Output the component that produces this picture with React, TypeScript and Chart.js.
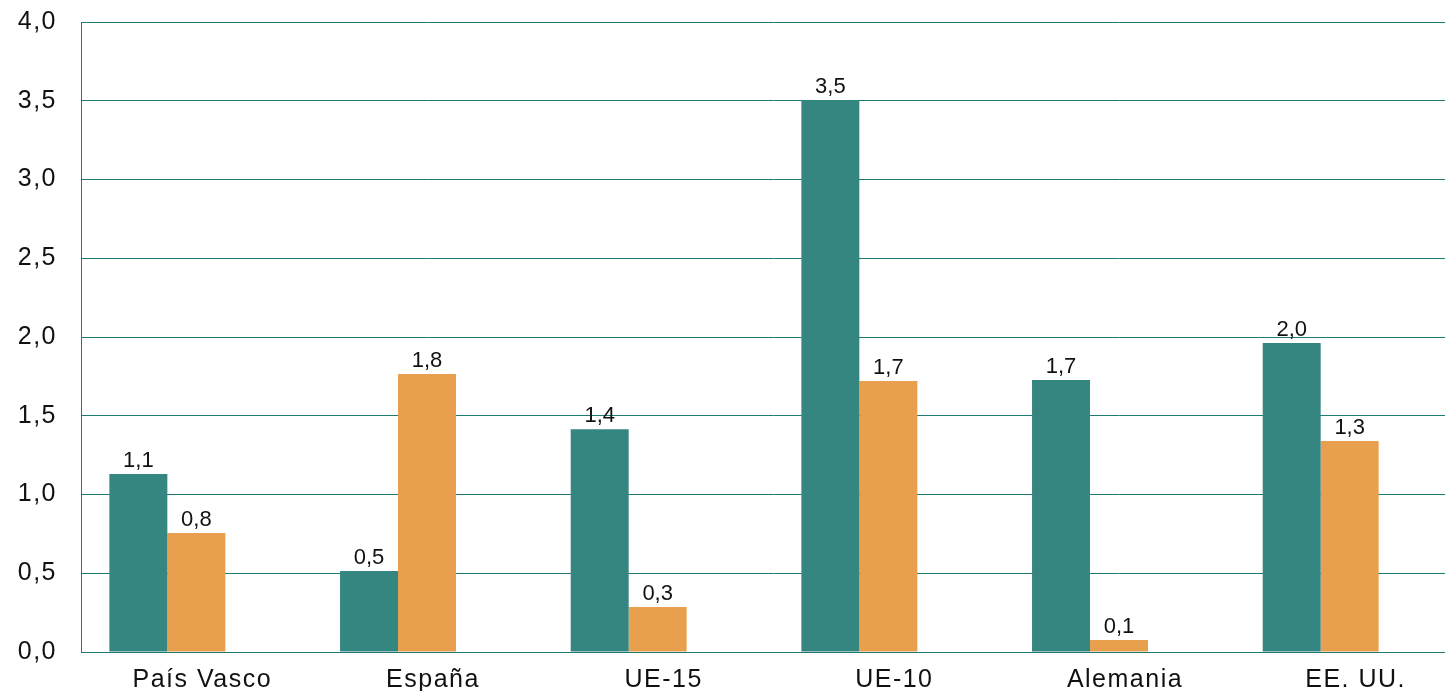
import React, { useEffect, useRef } from "react";
import { Chart, registerables } from "chart.js";

Chart.register(...registerables);

const categories = ["País Vasco", "España", "UE-15", "UE-10", "Alemania", "EE. UU."];
const seriesA = [1.13, 0.515, 1.415, 3.505, 1.727, 1.962];
const seriesB = [0.755, 1.765, 0.285, 1.72, 0.076, 1.34];
const seriesEmpty = [null, null, null, null, null, null];
const yMin = 0;
const yMax = 4;
const yStep = 0.5;

const fmt = (v: number) => v.toFixed(1).replace(".", ",");

const spacingPlugin = {
  id: "spacing",
  beforeDraw(chart: any) {
    (chart.ctx as any).letterSpacing = "1.5px";
  },
  beforeDatasetsDraw(chart: any) {
    (chart.ctx as any).letterSpacing = "2.5px";
  },
};

const labelPlugin = {
  id: "barLabels",
  afterDatasetsDraw(chart: any) {
    const ctx = chart.ctx;
    ctx.save();
    (ctx as any).letterSpacing = "0px";
    ctx.font = "22px 'Liberation Sans', Arial, sans-serif";
    ctx.fillStyle = "#111111";
    ctx.textAlign = "center";
    ctx.textBaseline = "alphabetic";
    chart.data.datasets.forEach((ds: any, i: number) => {
      const meta = chart.getDatasetMeta(i);
      meta.data.forEach((el: any, j: number) => {
        const v = ds.data[j];
        if (v === null || v === undefined) return;
        ctx.fillText(fmt(v), el.x, el.y - 7);
      });
    });
    ctx.restore();
  },
};

export default function App() {
  const ref = useRef<HTMLCanvasElement>(null);
  useEffect(() => {
    if (!ref.current) return;
    const grid = "#1F7A73";
    const chart = new Chart(ref.current, {
      type: "bar",
      data: {
        labels: categories,
        datasets: [
          { label: "A", data: seriesA, backgroundColor: "#358580" },
          { label: "B", data: seriesB, backgroundColor: "#E8A04E" },
          { label: "C", data: seriesEmpty as any, backgroundColor: "transparent" },
        ],
      },
      options: {
        responsive: false,
        animation: false,
        devicePixelRatio: 1,
        layout: { padding: { top: 22, left: 0, right: 0, bottom: 0 } },
        datasets: { bar: { categoryPercentage: 0.754, barPercentage: 1 } },
        plugins: { legend: { display: false }, tooltip: { enabled: false } },
        scales: {
          x: {
            grid: { display: false },
            border: { display: true, color: grid, width: 1 },
            ticks: {
              color: "#111111",
              font: { size: 25, family: "'Liberation Sans', Arial, sans-serif" },
              padding: 5,
              maxRotation: 0,
              labelOffset: 6,
            },
            afterFit(scale: any) {
              scale.height = 68;
              scale.paddingLeft = 0;
              scale.paddingRight = 0;
            },
          },
          y: {
            min: yMin,
            max: yMax,
            grid: { color: grid, lineWidth: 1, drawTicks: false },
            border: { display: true, color: grid, width: 1 },
            ticks: {
              stepSize: yStep,
              color: "#111111",
              font: { size: 25, family: "'Liberation Sans', Arial, sans-serif" },
              padding: 24,
              callback: (v: any) => fmt(Number(v)),
            },
            afterFit(scale: any) {
              scale.width = 81;
              scale.paddingTop = 0;
              scale.paddingBottom = 0;
            },
          },
        },
      },
      plugins: [spacingPlugin, labelPlugin],
    });
    return () => chart.destroy();
  }, []);
  return (
    <div
      style={{
        position: "fixed",
        left: 0,
        top: 0,
        width: 1445,
        height: 691,
        overflow: "hidden",
        background: "#ffffff",
      }}
    >
      <canvas ref={ref} width={1465} height={720} style={{ width: 1465, height: 720, display: "block" }} />
    </div>
  );
}
